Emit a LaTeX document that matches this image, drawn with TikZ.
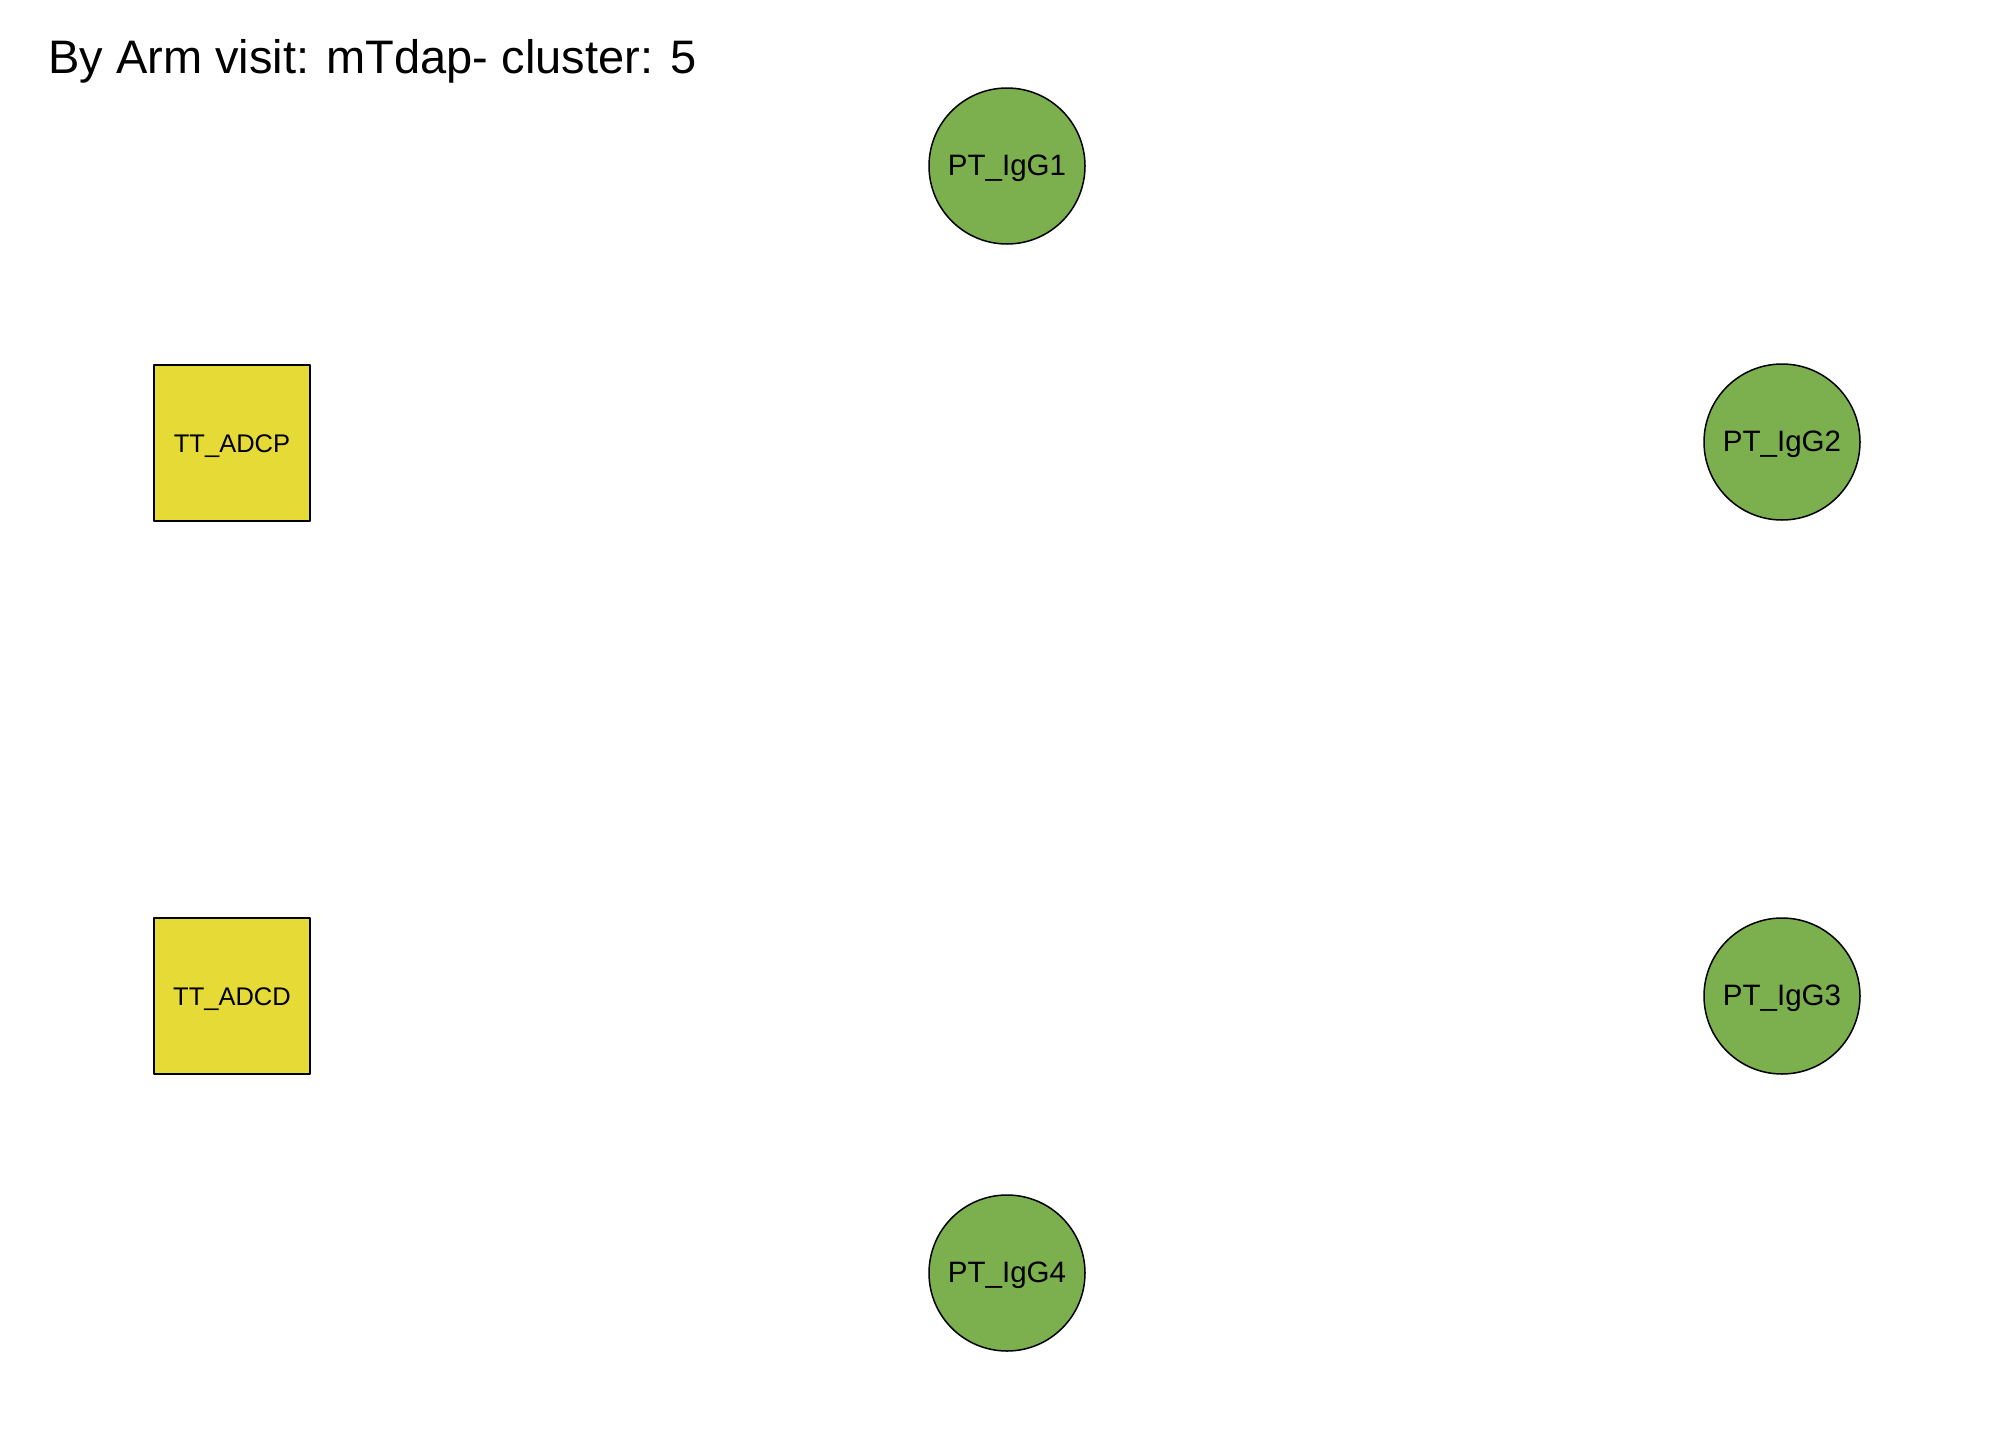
\documentclass[tikz,border=0pt]{standalone}
\usepackage{fontspec}
\setmainfont{Liberation Sans}
\definecolor{ptgreen}{RGB}{124,175,78}
\definecolor{ttyellow}{RGB}{230,218,54}
\begin{document}
\begin{tikzpicture}[x=1pt, y=-1pt, line join=round,
	ptnode/.style={circle, draw, line width=1.5pt, fill=ptgreen, minimum size=156pt, inner sep=0pt, text depth=0pt, font=\fontsize{29.5}{34}\selectfont},
	ttnode/.style={rectangle, draw, line width=1.5pt, fill=ttyellow, minimum size=156pt, inner sep=0pt, text depth=0pt, font=\fontsize{25.5}{30}\selectfont}]
	\useasboundingbox (0,0) rectangle (2016,1440);
	\node[anchor=base west, font=\fontsize{47}{56}\selectfont, inner sep=0pt] (title) at (48,73) {By Arm visit: mTdap- cluster: 5};
	\foreach \k/\x/\y in {1/1007/166, 2/1782/442, 3/1782/996, 4/1007/1273}
		\node[ptnode, label={[font=\fontsize{29.5}{34}\selectfont, yshift=-2pt]center:PT\_IgG\k}] (igg\k) at (\x,\y) {};
	\node[ttnode, label={[font=\fontsize{25.5}{30}\selectfont, yshift=-3pt]center:TT\_ADCP}] (adcp) at (232,443) {};
	\node[ttnode, label={[font=\fontsize{25.5}{30}\selectfont, yshift=-3pt]center:TT\_ADCD}] (adcd) at (232,996) {};
\end{tikzpicture}
\end{document}
